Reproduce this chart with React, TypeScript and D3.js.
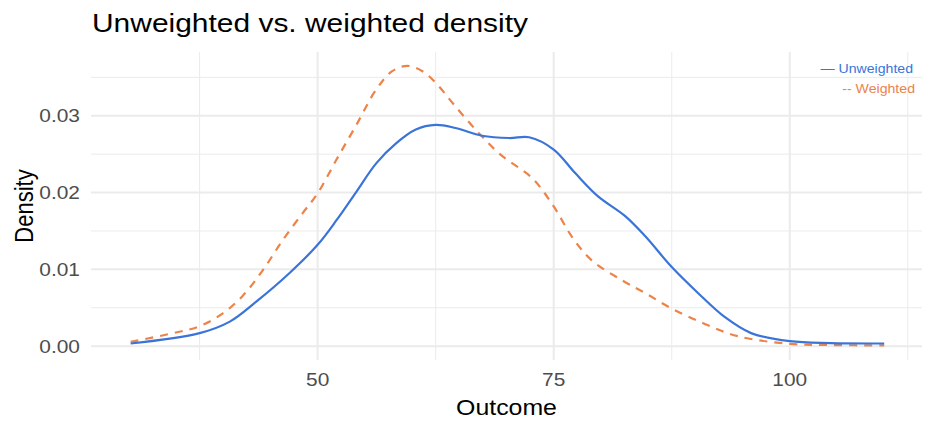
import React from "react";
import * as d3 from "d3";

// values
const outcomeU = [30.2, 37.5, 40.7, 43.5, 47.0, 50, 52, 54.1, 56.2, 58.3, 60.4, 62.5, 64.6, 67.4, 70.3, 72.4, 75, 77.3, 79.7, 82.6, 84.7, 87.5, 90.3, 93.1, 95.9, 100, 104.3, 110];
const densityU = [0.00035, 0.0017, 0.0032, 0.0058, 0.0095, 0.0132, 0.0164, 0.0201, 0.0238, 0.0264, 0.0282, 0.0288, 0.0284, 0.0274, 0.0271, 0.0272, 0.0256, 0.0225, 0.0195, 0.0169, 0.0143, 0.0103, 0.0069, 0.0038, 0.0017, 0.00065, 0.0004, 0.00035];

const outcomeW = [30.2, 34.7, 37.5, 40, 42.1, 44.2, 46.3, 48.4, 50, 52, 54.1, 56.2, 57.9, 59.5, 61.1, 62.5, 64.6, 67.1, 69.4, 72.7, 75, 76.9, 79.0, 82.2, 84.7, 87.5, 91, 94.5, 100, 104.3, 110];
const densityW = [0.00056, 0.0017, 0.0026, 0.0043, 0.0066, 0.0099, 0.0138, 0.0173, 0.0199, 0.0243, 0.0288, 0.0334, 0.0358, 0.0365, 0.0358, 0.0343, 0.0312, 0.0277, 0.0249, 0.0219, 0.0182, 0.0143, 0.0112, 0.0086, 0.0069, 0.0049, 0.0029, 0.0013, 0.0003, 0.00015, 0.0001];

const xMajor = [50, 75, 100];
const xMinor = [37.5, 62.5, 87.5, 112.5];
const yMajor = [0, 0.01, 0.02, 0.03];
const yMinor = [0.005, 0.015, 0.025, 0.035];

const blue = "#3b74d8";
const orange = "#ec8349";
const font = "'Liberation Sans', Arial, sans-serif";
// the reference text is a little wider than Liberation Sans
const sx = 1.13;

const T = ({x, y, size, fill = "#000", anchor = "start", children}: any) => (
  <text transform={`translate(${x},${y}) scale(${sx},1)`} fontSize={size} fill={fill} textAnchor={anchor}>
    {children}
  </text>
);

export default function App() {
  const width = 936;
  const height = 432;
  const margin = {top: 52, right: 14, bottom: 72, left: 91};

  const x = d3.scaleLinear().domain([26, 114]).range([margin.left, width - margin.right]);
  const y = d3.scaleLinear().domain([-0.0018, 0.0383]).range([height - margin.bottom, margin.top]);

  const line = d3
    .line<[number, number]>()
    .x(d => x(d[0]))
    .y(d => y(d[1]))
    .curve(d3.curveCatmullRom);

  const ptsU = outcomeU.map((o, i) => [o, densityU[i]] as [number, number]);
  const ptsW = outcomeW.map((o, i) => [o, densityW[i]] as [number, number]);

  const [x0, x1] = x.range();
  const [y0, y1] = y.range();

  return (
    <svg width={width} height={height} style={{position: "absolute", left: 0, top: 0}} fontFamily={font}>
      <rect width={width} height={height} fill="#fff"/>
      {/* grid */}
      {yMinor.map(v => (
        <line key={"ym" + v} x1={x0} x2={x1} y1={y(v)} y2={y(v)} stroke="#ebebeb" strokeWidth={1}/>
      ))}
      {xMinor.map(v => (
        <line key={"xm" + v} x1={x(v)} x2={x(v)} y1={y0} y2={y1} stroke="#ebebeb" strokeWidth={1}/>
      ))}
      {yMajor.map(v => (
        <line key={"yM" + v} x1={x0} x2={x1} y1={y(v)} y2={y(v)} stroke="#ebebeb" strokeWidth={2}/>
      ))}
      {xMajor.map(v => (
        <line key={"xM" + v} x1={x(v)} x2={x(v)} y1={y0} y2={y1} stroke="#ebebeb" strokeWidth={2}/>
      ))}

      {/* curves */}
      <path d={line(ptsW) ?? ""} fill="none" stroke={orange} strokeWidth={2.2} strokeDasharray="8,7"/>
      <path d={line(ptsU) ?? ""} fill="none" stroke={blue} strokeWidth={2.2}/>

      {/* axis labels */}
      {yMajor.map(v => (
        <T key={"yl" + v} x={x0 - 11} y={y(v) + 6.5} size={18.5} fill="#4d4d4d" anchor="end">
          {v.toFixed(2)}
        </T>
      ))}
      {xMajor.map(v => (
        <T key={"xl" + v} x={x(v)} y={y0 + 26} size={18.5} fill="#4d4d4d" anchor="middle">
          {v}
        </T>
      ))}

      <T x={(x0 + x1) / 2} y={415} size={22} anchor="middle">Outcome</T>
      <text transform={`translate(33,${(y0 + y1) / 2}) scale(${sx},1) rotate(-90)`} textAnchor="middle" fontSize={22} fill="#000">
        Density
      </text>
      <T x={92} y={32} size={26.5}>Unweighted vs. weighted density</T>

      {/* legend */}
      <T x={913} y={73} size={12.5} fill={blue} anchor="end">— Unweighted</T>
      <T x={915} y={93} size={12.5} fill={orange} anchor="end">-- Weighted</T>
    </svg>
  );
}
